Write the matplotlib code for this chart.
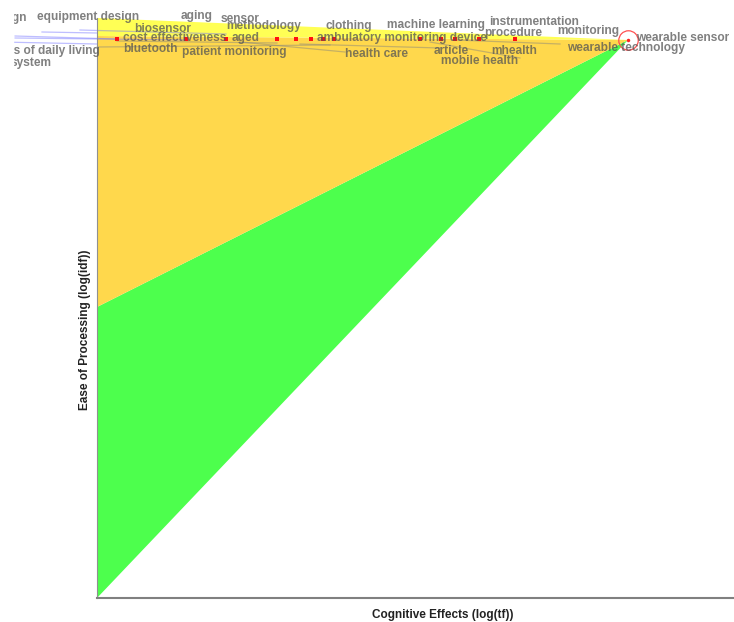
import numpy as np
from matplotlib import pyplot as plt
from matplotlib.patches import Rectangle

plt.rcParams['font.family'] = ['Liberation Sans', 'DejaVu Sans']

# term points: log(tf) vs log(idf)
point_tf = [0.20, 0.89, 1.29, 1.80, 1.99, 2.14, 2.26, 2.37, 3.23, 3.44, 3.58, 3.82, 4.18]
point_idf = [5.59, 5.59, 5.59, 5.59, 5.59, 5.59, 5.59, 5.59, 5.59, 5.59, 5.59, 5.59, 5.59]
focus_tf = 5.31
focus_idf = 5.58

# term labels and where they were placed
terms = ["equipment design", "aging", "sensor", "biosensor", "methodology",
         "clothing", "machine learning", "instrumentation", "procedure",
         "monitoring", "cost effectiveness", "aged", "ambulatory monitoring device",
         "wearable sensor", "wearable technology", "bluetooth", "patient monitoring",
         "health care", "article", "mhealth", "mobile health"]
term_x = [-0.60, 0.84, 1.24, 0.37, 1.29, 2.29, 2.90, 3.92, 3.87, 4.60, 0.26, 1.35,
          2.20, 5.39, 4.70, 0.26, 0.85, 2.48, 3.37, 3.94, 3.44]
term_y = [5.81, 5.82, 5.79, 5.69, 5.72, 5.72, 5.73, 5.76, 5.65, 5.67, 5.60, 5.60,
          5.60, 5.60, 5.50, 5.49, 5.46, 5.44, 5.47, 5.47, 5.37]
# labels cut off at the left edge (right aligned)
left_terms = ["design", "activities of daily living", "system"]
left_x = [-0.70, 0.03, -0.45]
left_y = [5.80, 5.47, 5.35]

# leader lines (x0, y0, x1, y1)
outer_links = [(-0.82, 5.62, 0.20, 5.59), (-0.82, 5.60, 0.89, 5.58),
               (-0.17, 5.68, 1.29, 5.64), (-0.97, 5.56, 0.00, 5.54),
               (-0.55, 5.66, 0.00, 5.65)]
inner_links = [(0.00, 5.51, 2.33, 5.53), (1.43, 5.56, 2.48, 5.46),
               (2.03, 5.54, 3.43, 5.50), (3.33, 5.56, 4.23, 5.40),
               (3.59, 5.58, 4.63, 5.54), (0.20, 5.57, 1.80, 5.55)]

fig = plt.figure(figsize=(7.34, 6.22), dpi=100)
ax = fig.add_axes([97 / 734, 24 / 622, 636 / 734, 580 / 622])
ax.set_xlim(0, 6.36)
ax.set_ylim(0, 5.80)

# regions
ax.fill([0, 0, focus_tf], [0, 2.91, focus_idf], color='#4dff4d', lw=0, zorder=1)
ax.fill([0, 0, focus_tf], [2.91, 5.62, focus_idf], color='#ffd84c', lw=0, zorder=1)
ax.fill([0, 0, focus_tf], [5.62, 5.80, focus_idf], color='#ffff55', lw=0, zorder=1)

for x0, y0, x1, y1 in outer_links:
    ax.plot([x0, x1], [y0, y1], color='#7070ff', alpha=0.45, lw=0.9, clip_on=False, zorder=2)
for x0, y0, x1, y1 in inner_links:
    ax.plot([x0, x1], [y0, y1], color='#808080', alpha=0.45, lw=0.9, clip_on=False, zorder=2)

ax.plot(point_tf, point_idf, 's', color='#ff1010', ms=3.5, mew=0, clip_on=False, zorder=3)
ax.plot([focus_tf], [focus_idf], 'o', color='#ff2020', ms=2.5, mew=0, clip_on=False, zorder=3)
ax.plot([focus_tf], [focus_idf], 'o', mfc='none', mec='#ff5050', ms=14, mew=0.9,
        clip_on=False, zorder=3)

for t, x, y in zip(terms, term_x, term_y):
    ax.text(x, y, t, fontsize=8.6, fontweight='bold', color='#555555', alpha=0.75,
            ha='left', va='center', zorder=4)
for t, x, y in zip(left_terms, left_x, left_y):
    ax.text(x, y, t, fontsize=8.6, fontweight='bold', color='#555555', alpha=0.75,
            ha='right', va='center', zorder=4)

for s in ['top', 'right']:
    ax.spines[s].set_visible(False)
ax.spines['left'].set_color('#909090')
ax.spines['left'].set_linewidth(0.8)
ax.spines['bottom'].set_color('#808080')
ax.spines['bottom'].set_linewidth(1.5)
ax.set_xticks([])
ax.set_yticks([])

# the view is cut off a little way in from the left edge
fig.patches.append(Rectangle((0, 0), 13 / 734, 1, transform=fig.transFigure,
                             color='white', zorder=10))

fig.text(443 / 734, 1 - 615 / 622, "Cognitive Effects (log(tf))", fontsize=8.5,
         fontweight='bold', color='#222222', ha='center', va='center')
fig.text(85 / 734, 1 - 330 / 622, "Ease of Processing (log(idf))", fontsize=8.5,
         fontweight='bold', color='#222222', ha='center', va='center', rotation=90)

fig.savefig("out.png", dpi=100)
